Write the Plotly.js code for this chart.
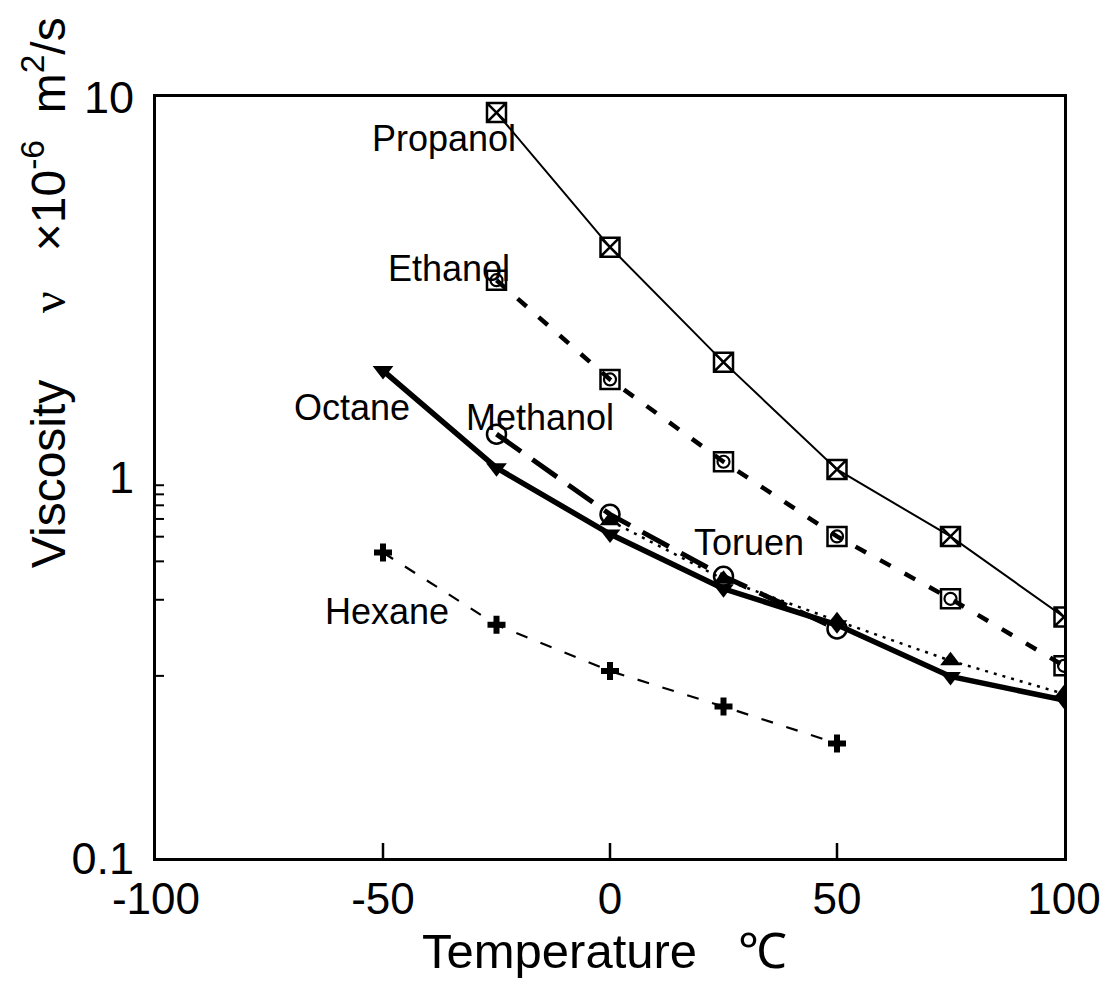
<!DOCTYPE html>
<html><head><meta charset="utf-8">
<script src="https://cdn.plot.ly/plotly-3.0.1.min.js"></script>
<style>body{margin:0;background:#fff}</style>
</head><body>
<div id="chart" style="width:1115px;height:984px"></div>
<script>
const propanolT = [-25, 0, 25, 50, 75, 100];
const propanol = [9.1, 4.03, 2.01, 1.05, 0.70, 0.43];
const ethanolT = [-25, 0, 25, 50, 75, 100];
const ethanol = [3.3, 1.81, 1.10, 0.70, 0.48, 0.32];
const methanolT = [-25, 0, 25, 50];
const methanol = [1.30, 0.80, 0.55, 0.40];
const octaneT = [-50, -25, 0, 25, 50, 75, 100];
const octane = [1.91, 1.06, 0.71, 0.51, 0.41, 0.30, 0.26];
const tolueneT = [0, 25, 50, 75, 100];
const toluene = [0.77, 0.54, 0.42, 0.33, 0.27];
const hexaneT = [-50, -25, 0, 25, 50];
const hexane = [0.635, 0.41, 0.31, 0.25, 0.20];
const xTicks = [-100, -50, 0, 50, 100];
const yTicks = [0.1, 1, 10];
const yTickText = ['0.1', '1', '10'];
const yMinor = [0.2,0.3,0.4,0.5,0.6,0.7,0.8,0.9,1,2,3,4,5,6,7,8,9];

const labels = [
  {text:'Propanol', x:-25, y:9.1, ax:-53, ay:26},
  {text:'Ethanol', x:-25, y:3.3, ax:-48, ay:-12},
  {text:'Octane', x:-50, y:1.91, ax:-31, ay:37},
  {text:'Methanol', x:-25, y:1.30, ax:43, ay:-17},
  {text:'Toruen', x:25, y:0.55, ax:25, ay:-34},
  {text:'Hexane', x:-50, y:0.635, ax:4, ay:59}
];

const K = '#000';
const FONT = 'Liberation Sans, Arial, Helvetica, sans-serif';
const W = 908, H = 761;
const traces = [
  {x:propanolT, y:propanol, mode:'lines+markers', line:{color:K,width:2},
   marker:{symbol:'square-x-open', size:19, color:K, line:{width:2.5, color:K}}},
  {x:ethanolT, y:ethanol, mode:'lines+markers', line:{color:K,width:4.5,dash:'12px,16px'},
   marker:{symbol:'square-open', size:19, color:K, line:{width:2.5, color:K}}},
  {x:ethanolT, y:ethanol, mode:'markers',
   marker:{symbol:'circle-open', size:12, color:K, line:{width:2.2, color:K}}},
  {x:methanolT, y:methanol, mode:'lines+markers', line:{color:K,width:5,dash:'30px,14px'},
   marker:{symbol:'circle-open', size:19, color:K, line:{width:2.5, color:K}}},
  {x:tolueneT, y:toluene, mode:'lines+markers', line:{color:K,width:2.5,dash:'3px,6px'},
   marker:{symbol:'triangle-up', size:18, color:K}},
  {x:octaneT, y:octane, mode:'lines+markers', line:{color:K,width:5.5},
   marker:{symbol:'triangle-down', size:18, color:K}},
  {x:hexaneT, y:hexane, mode:'lines+markers', line:{color:K,width:2.2,dash:'12px,14px'},
   marker:{symbol:'cross', size:15, color:K}}
];

const annots = labels.map(l => ({
  x:l.x, y:Math.log10(l.y), xref:'x', yref:'y', text:l.text, showarrow:true,
  arrowcolor:'rgba(0,0,0,0)', ax:l.ax, ay:l.ay, axref:'pixel', ayref:'pixel',
  font:{family:FONT, size:36, color:K},
  xanchor:'center', yanchor:'middle', standoff:0
}));
annots.push({
  xref:'paper', yref:'paper', x:-0.123, y:0.378, xanchor:'center', yanchor:'bottom',
  textangle:-90, showarrow:false,
  text:'Viscosity&nbsp;&nbsp;&nbsp;&nbsp;&nbsp;<span style="font-family:Liberation Serif">ν</span>&nbsp;&nbsp;&nbsp;×10<sup>-6</sup>&nbsp; m<sup>2</sup>/s',
  font:{family:FONT, size:48, color:K}
});
annots.push({
  xref:'paper', yref:'paper', x:0.494, y:-0.122, xanchor:'center', yanchor:'middle',
  showarrow:false, text:'Temperature&nbsp;&nbsp;&nbsp;℃',
  font:{family:FONT, size:49, color:K}
});

// axis tick marks (inside), placed from the tick arrays
const shapes = [];
xTicks.slice(1, -1).forEach(v => shapes.push({type:'line', xref:'x', yref:'paper',
  x0:v, x1:v, y0:0, y1:15/H, line:{color:K, width:2.5}}));
yMinor.forEach(v => shapes.push({type:'line', xref:'paper', yref:'y',
  x0:0, x1:(v === 1 ? 12 : 8)/W, y0:Math.log10(v), y1:Math.log10(v), line:{color:K, width:2}}));

const layout = {
  width:1115, height:984,
  margin:{l:156, r:51, t:97, b:126},
  paper_bgcolor:'#fff', plot_bgcolor:'#fff',
  showlegend:false,
  font:{family:FONT, color:K},
  xaxis:{range:[-100,100], tickmode:'array', tickvals:xTicks, ticktext:xTicks.map(String),
    ticks:'', showgrid:false, zeroline:false, showline:true, linewidth:3, linecolor:K, mirror:true,
    tickfont:{size:44, color:K}},
  yaxis:{type:'log', range:[-1,1], tickmode:'array', tickvals:yTicks, ticktext:yTickText,
    ticks:'', ticklabelstandoff:10,
    showgrid:false, zeroline:false, showline:true, linewidth:3, linecolor:K, mirror:true,
    tickfont:{size:45, color:K}},
  shapes:shapes,
  annotations:annots
};
Plotly.newPlot('chart', traces, layout, {displayModeBar:false});
</script>
</body></html>
